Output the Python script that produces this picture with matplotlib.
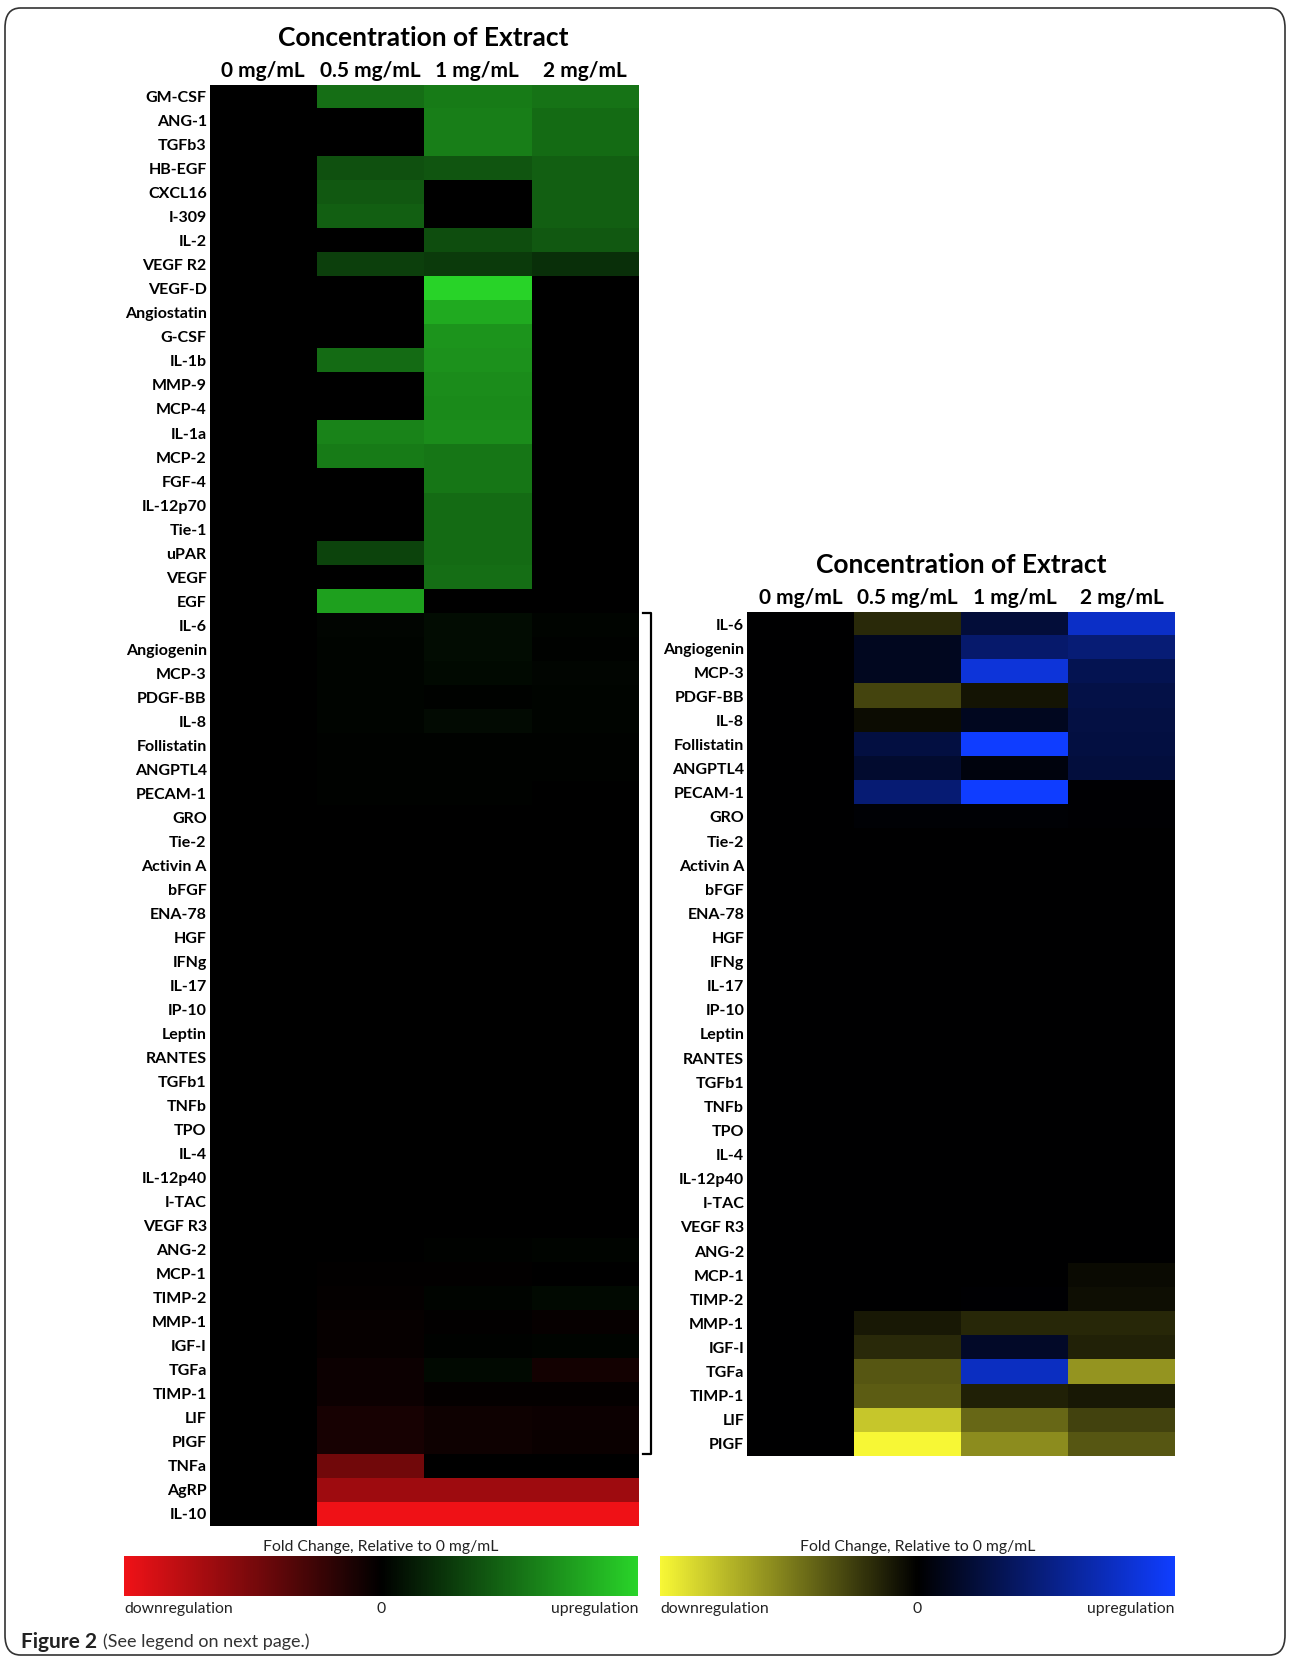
import numpy as np
import matplotlib
matplotlib.use("Agg")
import matplotlib.pyplot as plt
from matplotlib.colors import LinearSegmentedColormap, Normalize
from matplotlib.cm import ScalarMappable
from matplotlib.patches import FancyBboxPatch
from matplotlib.lines import Line2D
from matplotlib.transforms import blended_transform_factory

# ---------------- data ----------------
concentrations = ['0 mg/mL', '0.5 mg/mL', '1 mg/mL', '2 mg/mL']

top_labels = ['GM-CSF', 'ANG-1', 'TGFb3', 'HB-EGF', 'CXCL16', 'I-309', 'IL-2',
              'VEGF R2', 'VEGF-D', 'Angiostatin', 'G-CSF', 'IL-1b', 'MMP-9',
              'MCP-4', 'IL-1a', 'MCP-2', 'FGF-4', 'IL-12p70', 'Tie-1', 'uPAR',
              'VEGF', 'EGF']
mid_labels = ['IL-6', 'Angiogenin', 'MCP-3', 'PDGF-BB', 'IL-8', 'Follistatin',
              'ANGPTL4', 'PECAM-1', 'GRO', 'Tie-2', 'Activin A', 'bFGF',
              'ENA-78', 'HGF', 'IFNg', 'IL-17', 'IP-10', 'Leptin', 'RANTES',
              'TGFb1', 'TNFb', 'TPO', 'IL-4', 'IL-12p40', 'I-TAC', 'VEGF R3',
              'ANG-2', 'MCP-1', 'TIMP-2', 'MMP-1', 'IGF-I', 'TGFa', 'TIMP-1',
              'LIF', 'PIGF']
bottom_labels = ['TNFa', 'AgRP', 'IL-10']
left_labels = top_labels + mid_labels + bottom_labels

# left map: red (-1, down) .. black (0) .. green (+1, up)
left_05 = [0.52, 0.0, 0.0, 0.38, 0.42, 0.45, 0.0, 0.30, 0.0, 0.0, 0.0, 0.50,
           0.0, 0.0, 0.62, 0.58, 0.0, 0.0, 0.0, 0.32, 0.0, 0.75,
           0.03, 0.02, 0.02, 0.02, 0.02, 0.01, 0.01, 0.01, 0.0, 0.0, 0.0, 0.0,
           0.0, 0.0, 0.0, 0.0, 0.0, 0.0, 0.0, 0.0, 0.0, 0.0, 0.0, 0.0, 0.0, 0.0,
           0.0, -0.01, -0.02, -0.03, -0.03, -0.05, -0.05, -0.10, -0.10,
           -0.47, -0.66, -1.0]
left_1 = [0.58, 0.60, 0.60, 0.40, 0.0, 0.0, 0.36, 0.28, 1.0, 0.80, 0.70, 0.68,
          0.66, 0.65, 0.66, 0.56, 0.56, 0.50, 0.50, 0.50, 0.52, 0.0,
          0.06, 0.06, 0.04, 0.01, 0.05, 0.01, 0.01, 0.01, 0.0, 0.0, 0.0, 0.0,
          0.0, 0.0, 0.0, 0.0, 0.0, 0.0, 0.0, 0.0, 0.0, 0.0, 0.0, 0.0, 0.0, 0.0,
          0.01, -0.01, 0.02, -0.01, 0.01, 0.04, -0.02, -0.06, -0.06,
          0.0, -0.66, -1.0]
left_2 = [0.54, 0.50, 0.50, 0.45, 0.45, 0.45, 0.42, 0.22, 0.0, 0.0, 0.0, 0.0,
          0.0, 0.0, 0.0, 0.0, 0.0, 0.0, 0.0, 0.0, 0.0, 0.0,
          0.02, 0.01, 0.03, 0.02, 0.02, 0.01, 0.01, 0.0, 0.0, 0.0, 0.0, 0.0,
          0.0, 0.0, 0.0, 0.0, 0.0, 0.0, 0.0, 0.0, 0.0, 0.0, 0.0, 0.0, 0.0, 0.0,
          0.02, 0.0, 0.04, -0.03, 0.02, -0.08, -0.02, -0.05, -0.04,
          0.0, -0.66, -1.0]
left_0 = [0.0] * len(left_labels)

# right map: yellow (-1, down) .. black (0) .. blue (+1, up)
right_labels = mid_labels
right_05 = [-0.17, 0.12, 0.12, -0.28, -0.05, 0.25, 0.18, 0.45, 0.02, 0.0, 0.0,
            0.0, 0.0, 0.0, 0.0, 0.0, 0.0, 0.0, 0.0, 0.0, 0.0, 0.0, 0.0, 0.0,
            0.0, 0.0, 0.0, 0.0, 0.0, -0.10, -0.17, -0.35, -0.37, -0.80, -1.0]
right_1 = [0.22, 0.42, 0.85, -0.08, 0.12, 1.0, 0.05, 1.0, 0.02, 0.0, 0.0,
           0.0, 0.0, 0.0, 0.0, 0.0, 0.0, 0.0, 0.0, 0.0, 0.0, 0.0, 0.0, 0.0,
           0.0, 0.0, 0.0, 0.0, 0.01, -0.16, 0.16, 0.75, -0.13, -0.42, -0.57]
right_2 = [0.78, 0.46, 0.32, 0.28, 0.26, 0.25, 0.24, 0.01, 0.01, 0.0, 0.0,
           0.0, 0.0, 0.0, 0.0, 0.0, 0.0, 0.0, 0.0, 0.0, 0.0, 0.0, 0.0, 0.0,
           0.0, 0.0, 0.0, -0.04, -0.06, -0.16, -0.14, -0.60, -0.10, -0.27, -0.35]
right_0 = [0.0] * len(right_labels)

# ---------------- style ----------------
plt.rcParams['font.family'] = ['Lato', 'DejaVu Sans']
W, H = 1290, 1659
fig = plt.figure(figsize=(W / 100, H / 100), dpi=100)

def px_axes(x0, y0, x1, y1):
    # pixel box (top-left origin) -> figure axes
    return fig.add_axes([x0 / W, 1 - y1 / H, (x1 - x0) / W, (y1 - y0) / H])

cmap_rg = LinearSegmentedColormap.from_list(
    'rg', [(0.94, 0.07, 0.09), (0, 0, 0), (0.16, 0.83, 0.16)])
cmap_yb = LinearSegmentedColormap.from_list(
    'yb', [(0.97, 0.97, 0.21), (0, 0, 0), (0.06, 0.24, 1.0)])

def heatmap(ax, cols, labels, cmap, title):
    data = np.column_stack(cols)
    ax.imshow(data, cmap=cmap, vmin=-1, vmax=1, aspect='auto',
              interpolation='nearest')
    ax.set_yticks(range(len(labels)))
    ax.set_yticklabels(labels, fontsize=11.5, fontweight='bold')
    ax.xaxis.tick_top()
    ax.set_xticks(range(len(concentrations)))
    ax.set_xticklabels(concentrations, fontsize=15, fontweight='bold')
    ax.tick_params(length=0, pad=2)
    ax.tick_params(axis='x', pad=3)
    for s in ax.spines.values():
        s.set_visible(False)
    ax.set_title(title, fontsize=19, fontweight='bold', pad=28)

ax_l = px_axes(209.5, 84.7, 638, 1526)
heatmap(ax_l, [left_0, left_05, left_1, left_2], left_labels, cmap_rg,
        'Concentration of Extract')

ax_r = px_axes(747, 612, 1175, 1456)
heatmap(ax_r, [right_0, right_05, right_1, right_2], right_labels, cmap_yb,
        'Concentration of Extract')

# bracket marking the rows repeated on the right
tr = blended_transform_factory(fig.transFigure, ax_l.transData)
i0 = len(top_labels) - 0.5
i1 = len(top_labels) + len(mid_labels) - 0.5
bx, bt = 651 / W, 643 / W
fig.lines.append(Line2D([bt, bx, bx, bt], [i0, i0, i1, i1], transform=tr,
                        color='black', lw=1.6))

# colour bars
def colour_bar(x0, x1, cmap):
    cax = px_axes(x0, 1556, x1, 1596)
    cb = fig.colorbar(ScalarMappable(norm=Normalize(-1, 1), cmap=cmap),
                      cax=cax, orientation='horizontal')
    cb.set_ticks([])
    cb.outline.set_visible(False)
    kw = dict(transform=cax.transAxes, fontsize=11.3, color='#222222')
    cax.text(0.5, 1.06, 'Fold Change, Relative to 0 mg/mL', ha='center',
             va='bottom', **kw)
    cax.text(0.0, -0.15, 'downregulation', ha='left', va='top', **kw)
    cax.text(0.5, -0.15, '0', ha='center', va='top', **kw)
    cax.text(1.0, -0.15, 'upregulation', ha='right', va='top', **kw)

colour_bar(124, 638, cmap_rg)
colour_bar(660, 1175, cmap_yb)

# caption and frame
fig.text(21 / W, 1 - 1642 / H, 'Figure 2', fontsize=15, fontweight='bold',
         va='center', ha='left', color='#222222')
fig.text(103 / W, 1 - 1642 / H, '(See legend on next page.)', fontsize=13,
         va='center', ha='left', color='#333333')
frame = FancyBboxPatch((5 / W, 1 - 1655 / H), 1280 / W, 1647 / H,
                       boxstyle='round,pad=0,rounding_size=0.012',
                       transform=fig.transFigure, fill=False,
                       edgecolor='#333333', lw=1.2)
fig.patches.append(frame)

fig.savefig('out.png', dpi=100)
